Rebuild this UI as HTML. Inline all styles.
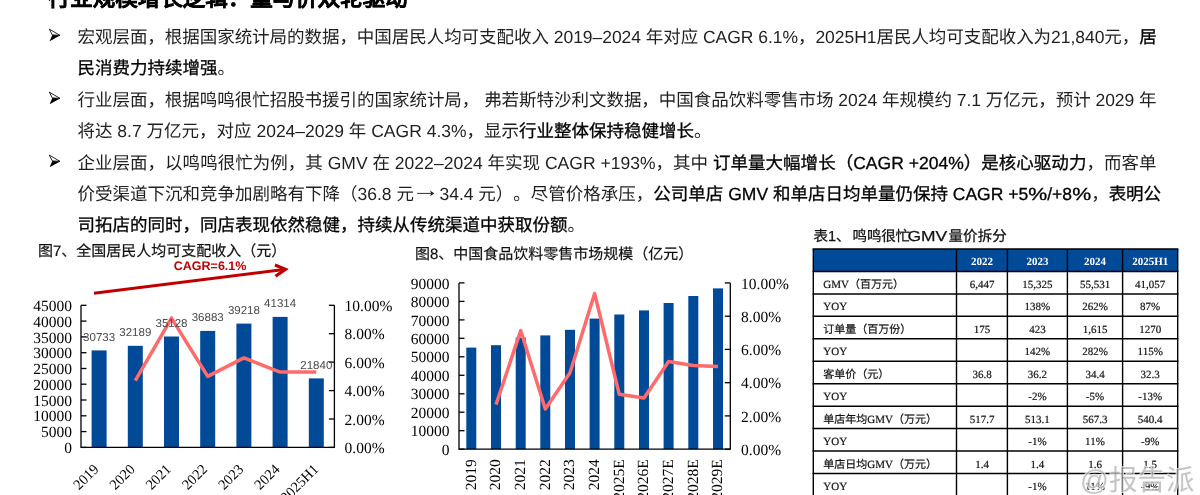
<!DOCTYPE html>
<html lang="zh-CN"><head><meta charset="utf-8">
<style>
html,body{margin:0;padding:0;background:#fff;}
#w{position:absolute;left:0;top:0;width:1200px;height:495px;will-change:transform;}
body{text-rendering:geometricPrecision;text-spacing-trim:space-all;width:1200px;height:495px;position:relative;overflow:hidden;font-family:"Liberation Sans",sans-serif;color:#1a1a1a;}
.l{position:absolute;left:77.5px;font-size:17.5px;line-height:20px;white-space:nowrap;color:#1f1f1f;}
b{font-weight:400;color:#000;-webkit-text-stroke:0.3px #000;}
.h{position:absolute;left:47.8px;top:-13.3px;font-size:22.5px;font-weight:bold;line-height:24px;white-space:nowrap;color:#000;-webkit-text-stroke:0.3px #000;}
.arr{position:absolute;left:48px;width:14px;height:14px;}
.pc{display:inline-block;transform:scaleX(1.22);margin:0 1.75px;}
.ra{display:inline-block;width:25.5px;height:12px;position:relative;}
.ra svg{position:absolute;left:0;top:0;}
.ch{position:absolute;left:0;top:0;}
.ch text{font-family:"Liberation Serif",serif;}
.ch .ys{font-size:15.5px;fill:#000;}
.ch .xs{font-size:14.5px;}
.ch .dl{font-family:"Liberation Sans",sans-serif;font-size:11.5px;fill:#484848;}
.ch .tt{font-family:"Liberation Sans",sans-serif;font-size:15px;fill:#111;stroke:#111;stroke-width:0.2px;}
.ch .cg{font-family:"Liberation Sans",sans-serif;font-size:12.5px;font-weight:bold;fill:#c00000;}
.ch .tb{font-family:"Liberation Sans",sans-serif;font-size:14.5px;fill:#111;stroke:#111;stroke-width:0.25px;}
.ch .th{font-size:11px;font-weight:bold;fill:#fff;}
.ch .td{font-size:11px;fill:#111;stroke:#111;stroke-width:0.2px;}
.ch .wm{font-family:"Liberation Sans",sans-serif;font-size:28.5px;fill:rgba(140,140,140,0.5);stroke:rgba(255,255,255,0.75);stroke-width:1.6;paint-order:stroke;}
</style></head><body><div id="w">
<div class="h">行业规模增长逻辑：量与价双轮驱动</div>

<svg class="arr" style="top:28px" viewBox="0 0 14 14"><path d="M1.3 1.1 L12 7.4 L4.3 6.9 Z" fill="#fff" stroke="#000" stroke-width="0.85"/><path d="M4.3 6.9 L12 7.4 L1.6 13.2 Z" fill="#000"/></svg>
<div class="l" style="top:27px;letter-spacing:-0.04px">宏观层面，根据国家统计局的数据，中国居民人均可支配收入 2019–2024 年对应 CAGR 6.1%，2025H1居民人均可支配收入为21,840元，<b>居</b></div>
<div class="l" style="top:58px"><b>民消费力持续增强</b>。</div>

<svg class="arr" style="top:91.3px" viewBox="0 0 14 14"><path d="M1.3 1.1 L12 7.4 L4.3 6.9 Z" fill="#fff" stroke="#000" stroke-width="0.85"/><path d="M4.3 6.9 L12 7.4 L1.6 13.2 Z" fill="#000"/></svg>
<div class="l" style="top:90px;letter-spacing:-0.03px">行业层面，根据鸣鸣很忙招股书援引的国家统计局， 弗若斯特沙利文数据，中国食品饮料零售市场 2024 年规模约 7.1 万亿元，预计 2029 年</div>
<div class="l" style="top:121px">将达 8.7 万亿元，对应 2024–2029 年 CAGR 4.3%，显示<b>行业整体保持稳健增长</b>。</div>

<svg class="arr" style="top:154.3px" viewBox="0 0 14 14"><path d="M1.3 1.1 L12 7.4 L4.3 6.9 Z" fill="#fff" stroke="#000" stroke-width="0.85"/><path d="M4.3 6.9 L12 7.4 L1.6 13.2 Z" fill="#000"/></svg>
<div class="l" style="top:153px;letter-spacing:0.02px">企业层面，以鸣鸣很忙为例，其 GMV 在 2022–2024 年实现 CAGR +193%，其中 <b>订单量大幅增长（CAGR +204%）是核心驱动力</b>，而客单</div>
<div class="l" style="top:184px">价受渠道下沉和竞争加剧略有下降（36.8 元<span class="ra"><svg width="25.5" height="12" viewBox="0 0 25.5 12"><path d="M3.2 5.4 H19.5" fill="none" stroke="#333" stroke-width="1"/><path d="M16 2.6 L20.3 5.4 L16 8.2 L17.2 5.4 Z" fill="#1f1f1f"/></svg></span>34.4 元）。尽管价格承压，<b>公司单店 GMV 和单店日均单量仍保持 CAGR +5<span class="pc">%</span>/+8<span class="pc">%</span></b>，<b>表明公</b></div>
<div class="l" style="top:215px"><b>司拓店的同时，同店表现依然稳健，持续从传统渠道中获取份额</b>。</div>
<svg class="ch" width="1200" height="495" viewBox="0 0 1200 495">
<text x="38" y="255.5" class="tt">图7、全国居民人均可支配收入（元）</text>
<text x="173.8" y="270.3" class="cg">CAGR=6.1%</text>
<path d="M94 293.2 L284 269.6" stroke="#c00000" stroke-width="3" fill="none"/>
<path d="M275 265 L285.5 269.3 L275.5 276.3" stroke="#c00000" stroke-width="3.2" fill="none" stroke-linejoin="miter"/>
<rect x="91.6" y="350.4" width="15" height="97.0" fill="#004a98"/>
<rect x="127.8" y="345.8" width="15" height="101.6" fill="#004a98"/>
<rect x="164.0" y="336.5" width="15" height="110.9" fill="#004a98"/>
<rect x="200.2" y="330.9" width="15" height="116.5" fill="#004a98"/>
<rect x="236.4" y="323.6" width="15" height="123.8" fill="#004a98"/>
<rect x="272.6" y="316.9" width="15" height="130.5" fill="#004a98"/>
<rect x="308.8" y="378.4" width="15" height="69.0" fill="#004a98"/>
<path d="M81.0 305.3 V447.4 H334.4 V305.3" fill="none" stroke="#000" stroke-width="1.3"/>
<path d="M81.0 447.4 h5.5" stroke="#000" stroke-width="1.3"/>
<text x="72" y="453.0" class="ys" text-anchor="end">0</text>
<path d="M81.0 431.6 h5.5" stroke="#000" stroke-width="1.3"/>
<text x="72" y="437.2" class="ys" text-anchor="end">5000</text>
<path d="M81.0 415.8 h5.5" stroke="#000" stroke-width="1.3"/>
<text x="72" y="421.4" class="ys" text-anchor="end">10000</text>
<path d="M81.0 400.0 h5.5" stroke="#000" stroke-width="1.3"/>
<text x="72" y="405.6" class="ys" text-anchor="end">15000</text>
<path d="M81.0 384.2 h5.5" stroke="#000" stroke-width="1.3"/>
<text x="72" y="389.8" class="ys" text-anchor="end">20000</text>
<path d="M81.0 368.5 h5.5" stroke="#000" stroke-width="1.3"/>
<text x="72" y="374.1" class="ys" text-anchor="end">25000</text>
<path d="M81.0 352.7 h5.5" stroke="#000" stroke-width="1.3"/>
<text x="72" y="358.3" class="ys" text-anchor="end">30000</text>
<path d="M81.0 336.9 h5.5" stroke="#000" stroke-width="1.3"/>
<text x="72" y="342.5" class="ys" text-anchor="end">35000</text>
<path d="M81.0 321.1 h5.5" stroke="#000" stroke-width="1.3"/>
<text x="72" y="326.7" class="ys" text-anchor="end">40000</text>
<path d="M81.0 305.3 h5.5" stroke="#000" stroke-width="1.3"/>
<text x="72" y="310.9" class="ys" text-anchor="end">45000</text>
<path d="M334.4 447.4 h-5.5" stroke="#000" stroke-width="1.3"/>
<text x="344.5" y="453.0" class="ys">0.00%</text>
<path d="M334.4 419.0 h-5.5" stroke="#000" stroke-width="1.3"/>
<text x="344.5" y="424.6" class="ys">2.00%</text>
<path d="M334.4 390.6 h-5.5" stroke="#000" stroke-width="1.3"/>
<text x="344.5" y="396.2" class="ys">4.00%</text>
<path d="M334.4 362.1 h-5.5" stroke="#000" stroke-width="1.3"/>
<text x="344.5" y="367.7" class="ys">6.00%</text>
<path d="M334.4 333.7 h-5.5" stroke="#000" stroke-width="1.3"/>
<text x="344.5" y="339.3" class="ys">8.00%</text>
<path d="M334.4 305.3 h-5.5" stroke="#000" stroke-width="1.3"/>
<text x="344.5" y="310.9" class="ys">10.00%</text>
<polyline points="135.3,380.6 171.5,318.1 207.7,376.4 243.9,357.9 280.1,372.1 316.3,372.1" fill="none" stroke="#ff6b6b" stroke-width="3.5" stroke-linejoin="round"/>
<text x="99.1" y="340.9" class="dl" text-anchor="middle">30733</text>
<text x="135.3" y="336.3" class="dl" text-anchor="middle">32189</text>
<text x="171.5" y="327.0" class="dl" text-anchor="middle">35128</text>
<text x="207.7" y="321.4" class="dl" text-anchor="middle">36883</text>
<text x="243.9" y="314.1" class="dl" text-anchor="middle">39218</text>
<text x="280.1" y="307.4" class="dl" text-anchor="middle">41314</text>
<text x="316.3" y="368.9" class="dl" text-anchor="middle">21840</text>
<text transform="translate(99.6,470) rotate(-45)" class="ys xs" text-anchor="end">2019</text>
<text transform="translate(135.8,470) rotate(-45)" class="ys xs" text-anchor="end">2020</text>
<text transform="translate(172.0,470) rotate(-45)" class="ys xs" text-anchor="end">2021</text>
<text transform="translate(208.2,470) rotate(-45)" class="ys xs" text-anchor="end">2022</text>
<text transform="translate(244.4,470) rotate(-45)" class="ys xs" text-anchor="end">2023</text>
<text transform="translate(280.6,470) rotate(-45)" class="ys xs" text-anchor="end">2024</text>
<text transform="translate(319.3,470) rotate(-45)" class="ys xs" text-anchor="end">2025H1</text>
<text x="415" y="259" class="tt">图8、中国食品饮料零售市场规模（亿元）</text>
<rect x="466.3" y="347.6" width="10" height="101.6" fill="#004a98"/>
<rect x="491.0" y="345.2" width="10" height="104.0" fill="#004a98"/>
<rect x="515.7" y="337.6" width="10" height="111.6" fill="#004a98"/>
<rect x="540.3" y="335.4" width="10" height="113.8" fill="#004a98"/>
<rect x="565.0" y="329.8" width="10" height="119.4" fill="#004a98"/>
<rect x="589.6" y="318.6" width="10" height="130.6" fill="#004a98"/>
<rect x="614.3" y="314.5" width="10" height="134.7" fill="#004a98"/>
<rect x="639.0" y="310.4" width="10" height="138.8" fill="#004a98"/>
<rect x="663.6" y="303.0" width="10" height="146.2" fill="#004a98"/>
<rect x="688.3" y="296.0" width="10" height="153.2" fill="#004a98"/>
<rect x="713.0" y="288.4" width="10" height="160.8" fill="#004a98"/>
<path d="M459.0 282.9 V449.2 H730.3 V282.9" fill="none" stroke="#000" stroke-width="1.3"/>
<path d="M459.0 449.2 h5.5" stroke="#000" stroke-width="1.3"/>
<text x="449.6" y="454.8" class="ys" text-anchor="end">0</text>
<path d="M459.0 430.7 h5.5" stroke="#000" stroke-width="1.3"/>
<text x="449.6" y="436.3" class="ys" text-anchor="end">10000</text>
<path d="M459.0 412.2 h5.5" stroke="#000" stroke-width="1.3"/>
<text x="449.6" y="417.8" class="ys" text-anchor="end">20000</text>
<path d="M459.0 393.8 h5.5" stroke="#000" stroke-width="1.3"/>
<text x="449.6" y="399.4" class="ys" text-anchor="end">30000</text>
<path d="M459.0 375.3 h5.5" stroke="#000" stroke-width="1.3"/>
<text x="449.6" y="380.9" class="ys" text-anchor="end">40000</text>
<path d="M459.0 356.8 h5.5" stroke="#000" stroke-width="1.3"/>
<text x="449.6" y="362.4" class="ys" text-anchor="end">50000</text>
<path d="M459.0 338.3 h5.5" stroke="#000" stroke-width="1.3"/>
<text x="449.6" y="343.9" class="ys" text-anchor="end">60000</text>
<path d="M459.0 319.9 h5.5" stroke="#000" stroke-width="1.3"/>
<text x="449.6" y="325.5" class="ys" text-anchor="end">70000</text>
<path d="M459.0 301.4 h5.5" stroke="#000" stroke-width="1.3"/>
<text x="449.6" y="307.0" class="ys" text-anchor="end">80000</text>
<path d="M459.0 282.9 h5.5" stroke="#000" stroke-width="1.3"/>
<text x="449.6" y="288.5" class="ys" text-anchor="end">90000</text>
<path d="M730.3 449.2 h-5.5" stroke="#000" stroke-width="1.3"/>
<text x="741" y="454.8" class="ys">0.00%</text>
<path d="M730.3 415.9 h-5.5" stroke="#000" stroke-width="1.3"/>
<text x="741" y="421.5" class="ys">2.00%</text>
<path d="M730.3 382.7 h-5.5" stroke="#000" stroke-width="1.3"/>
<text x="741" y="388.3" class="ys">4.00%</text>
<path d="M730.3 349.4 h-5.5" stroke="#000" stroke-width="1.3"/>
<text x="741" y="355.0" class="ys">6.00%</text>
<path d="M730.3 316.2 h-5.5" stroke="#000" stroke-width="1.3"/>
<text x="741" y="321.8" class="ys">8.00%</text>
<path d="M730.3 282.9 h-5.5" stroke="#000" stroke-width="1.3"/>
<text x="741" y="288.5" class="ys">10.00%</text>
<polyline points="496.0,404.6 520.7,330.6 545.3,409.0 570.0,372.7 594.6,293.5 619.3,394.3 644.0,398.1 668.6,361.6 693.3,365.4 718.0,366.4" fill="none" stroke="#ff6b6b" stroke-width="3.5" stroke-linejoin="round"/>
<text transform="translate(475.6,459.3) rotate(-90)" class="ys" text-anchor="end">2019</text>
<text transform="translate(500.3,459.3) rotate(-90)" class="ys" text-anchor="end">2020</text>
<text transform="translate(525.0,459.3) rotate(-90)" class="ys" text-anchor="end">2021</text>
<text transform="translate(549.6,459.3) rotate(-90)" class="ys" text-anchor="end">2022</text>
<text transform="translate(574.3,459.3) rotate(-90)" class="ys" text-anchor="end">2023</text>
<text transform="translate(598.9,459.3) rotate(-90)" class="ys" text-anchor="end">2024</text>
<text transform="translate(623.6,459.3) rotate(-90)" class="ys" text-anchor="end">2025E</text>
<text transform="translate(648.3,459.3) rotate(-90)" class="ys" text-anchor="end">2026E</text>
<text transform="translate(672.9,459.3) rotate(-90)" class="ys" text-anchor="end">2027E</text>
<text transform="translate(697.6,459.3) rotate(-90)" class="ys" text-anchor="end">2028E</text>
<text transform="translate(722.3,459.3) rotate(-90)" class="ys" text-anchor="end">2029E</text>
<text x="813.5" y="240.5" class="tb">表1、</text><text x="852.6" y="240.5" class="tb" letter-spacing="-0.2">鸣鸣很忙</text><text transform="translate(907.5,240.5) scale(1.2,1)" class="tb">GMV</text><text x="948.5" y="240.5" class="tb" letter-spacing="0.1">量价拆分</text>
<rect x="813.3" y="249.0" width="364.4" height="22.45" fill="#004a98"/>
<path d="M812.5999999999999 249.00 H1178.4" stroke="#000" stroke-width="1.5"/>
<path d="M812.5999999999999 271.45 H1178.4" stroke="#000" stroke-width="1.5"/>
<path d="M812.5999999999999 293.90 H1178.4" stroke="#000" stroke-width="1.5"/>
<path d="M812.5999999999999 316.35 H1178.4" stroke="#000" stroke-width="1.5"/>
<path d="M812.5999999999999 338.80 H1178.4" stroke="#000" stroke-width="1.5"/>
<path d="M812.5999999999999 361.25 H1178.4" stroke="#000" stroke-width="1.5"/>
<path d="M812.5999999999999 383.70 H1178.4" stroke="#000" stroke-width="1.5"/>
<path d="M812.5999999999999 406.15 H1178.4" stroke="#000" stroke-width="1.5"/>
<path d="M812.5999999999999 428.60 H1178.4" stroke="#000" stroke-width="1.5"/>
<path d="M812.5999999999999 451.05 H1178.4" stroke="#000" stroke-width="1.5"/>
<path d="M812.5999999999999 473.50 H1178.4" stroke="#000" stroke-width="1.5"/>
<path d="M812.5999999999999 495.95 H1178.4" stroke="#000" stroke-width="1.5"/>
<path d="M813.3 249.0 V495.9" stroke="#000" stroke-width="1.4"/>
<path d="M956.5 249.0 V495.9" stroke="#000" stroke-width="1.4"/>
<path d="M1007.4 249.0 V495.9" stroke="#000" stroke-width="1.4"/>
<path d="M1067.4 249.0 V495.9" stroke="#000" stroke-width="1.4"/>
<path d="M1122.6 249.0 V495.9" stroke="#000" stroke-width="1.4"/>
<path d="M1177.7 249.0 V495.9" stroke="#000" stroke-width="1.4"/>
<text x="982.0" y="264.8" class="th" text-anchor="middle">2022</text>
<text x="1037.4" y="264.8" class="th" text-anchor="middle">2023</text>
<text x="1095.0" y="264.8" class="th" text-anchor="middle">2024</text>
<text x="1150.2" y="264.8" class="th" text-anchor="middle">2025H1</text>
<text x="823.3" y="287.9" class="td">GMV（百万元）</text>
<text x="982.0" y="287.9" class="td" text-anchor="middle">6,447</text>
<text x="1037.4" y="287.9" class="td" text-anchor="middle">15,325</text>
<text x="1095.0" y="287.9" class="td" text-anchor="middle">55,531</text>
<text x="1150.2" y="287.9" class="td" text-anchor="middle">41,057</text>
<text x="823.3" y="310.3" class="td">YOY</text>
<text x="1037.4" y="310.3" class="td" text-anchor="middle">138%</text>
<text x="1095.0" y="310.3" class="td" text-anchor="middle">262%</text>
<text x="1150.2" y="310.3" class="td" text-anchor="middle">87%</text>
<text x="823.3" y="332.8" class="td">订单量（百万份）</text>
<text x="982.0" y="332.8" class="td" text-anchor="middle">175</text>
<text x="1037.4" y="332.8" class="td" text-anchor="middle">423</text>
<text x="1095.0" y="332.8" class="td" text-anchor="middle">1,615</text>
<text x="1150.2" y="332.8" class="td" text-anchor="middle">1270</text>
<text x="823.3" y="355.2" class="td">YOY</text>
<text x="1037.4" y="355.2" class="td" text-anchor="middle">142%</text>
<text x="1095.0" y="355.2" class="td" text-anchor="middle">282%</text>
<text x="1150.2" y="355.2" class="td" text-anchor="middle">115%</text>
<text x="823.3" y="377.7" class="td">客单价（元）</text>
<text x="982.0" y="377.7" class="td" text-anchor="middle">36.8</text>
<text x="1037.4" y="377.7" class="td" text-anchor="middle">36.2</text>
<text x="1095.0" y="377.7" class="td" text-anchor="middle">34.4</text>
<text x="1150.2" y="377.7" class="td" text-anchor="middle">32.3</text>
<text x="823.3" y="400.1" class="td">YOY</text>
<text x="1037.4" y="400.1" class="td" text-anchor="middle">-2%</text>
<text x="1095.0" y="400.1" class="td" text-anchor="middle">-5%</text>
<text x="1150.2" y="400.1" class="td" text-anchor="middle">-13%</text>
<text x="823.3" y="422.6" class="td">单店年均GMV（万元）</text>
<text x="982.0" y="422.6" class="td" text-anchor="middle">517.7</text>
<text x="1037.4" y="422.6" class="td" text-anchor="middle">513.1</text>
<text x="1095.0" y="422.6" class="td" text-anchor="middle">567.3</text>
<text x="1150.2" y="422.6" class="td" text-anchor="middle">540.4</text>
<text x="823.3" y="445.0" class="td">YOY</text>
<text x="1037.4" y="445.0" class="td" text-anchor="middle">-1%</text>
<text x="1095.0" y="445.0" class="td" text-anchor="middle">11%</text>
<text x="1150.2" y="445.0" class="td" text-anchor="middle">-9%</text>
<text x="823.3" y="467.5" class="td">单店日均GMV（万元）</text>
<text x="982.0" y="467.5" class="td" text-anchor="middle">1.4</text>
<text x="1037.4" y="467.5" class="td" text-anchor="middle">1.4</text>
<text x="1095.0" y="467.5" class="td" text-anchor="middle">1.6</text>
<text x="1150.2" y="467.5" class="td" text-anchor="middle">1.5</text>
<text x="823.3" y="489.9" class="td">YOY</text>
<text x="1037.4" y="489.9" class="td" text-anchor="middle">-1%</text>
<text x="1095.0" y="489.9" class="td" text-anchor="middle">11%</text>
<text x="1150.2" y="489.9" class="td" text-anchor="middle">-9%</text>
<text x="1080" y="489.5" class="wm">@报告派</text>
</svg>
</div></body></html>
